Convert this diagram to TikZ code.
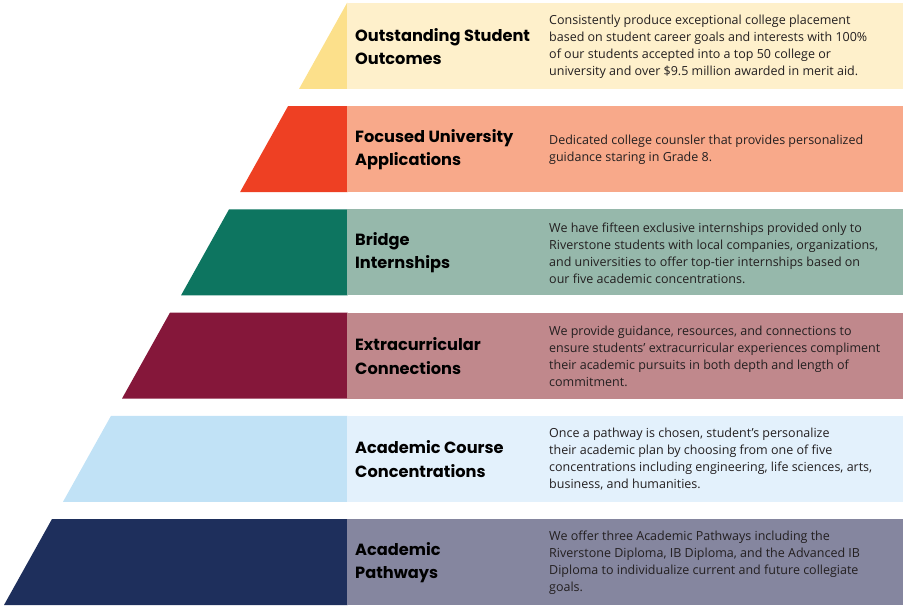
\documentclass[tikz,border=0pt]{standalone}
\usepackage{fontspec}
\setmainfont{Open Sans}
\newfontfamily\titlefont{Poppins}
\definecolor{d1}{HTML}{FCE08B}\definecolor{l1}{HTML}{FEF0CB}
\definecolor{d2}{HTML}{EE4023}\definecolor{l2}{HTML}{F8A98A}
\definecolor{d3}{HTML}{0D7560}\definecolor{l3}{HTML}{96B8AB}
\definecolor{d4}{HTML}{85173A}\definecolor{l4}{HTML}{C0888C}
\definecolor{d5}{HTML}{C1E2F6}\definecolor{l5}{HTML}{E3F1FC}
\definecolor{d6}{HTML}{1E2F5C}\definecolor{l6}{HTML}{85869F}
\definecolor{desctext}{HTML}{231F20}
\tikzset{
  titletext/.style={anchor=west,align=left,inner sep=0pt,font=\titlefont\fontsize{16.2}{23.5}\selectfont\bfseries,text=black},
  bodytext/.style={anchor=west,align=left,inner sep=0pt,font=\fontsize{12.5}{17}\selectfont,text=desctext},
}
\newcommand{\pyrrow}[6]{%
  % #1 index, #2 dark, #3 light, #4 title, #5 body, #6 name
  \pgfmathsetmacro{\rT}{3+103.2*#1}
  \pgfmathsetmacro{\rB}{\rT+86}
  \pgfmathsetmacro{\rTL}{347-59*#1}
  \pgfmathsetmacro{\rBL}{299-59*#1}
  \pgfmathsetmacro{\rM}{\rT+43.5}
  \fill[#2] (\rTL,\rT) -- (347.5,\rT) -- (347.5,\rB) -- (\rBL,\rB) -- cycle;
  \fill[#3] (347,\rT) rectangle (903,\rB);
  \node[titletext] (#6title) at (355,\rM) {#4};
  \node[bodytext] (#6body) at (549,\rM) {#5};
}
\begin{document}
\begin{tikzpicture}[x=1pt,y=-1pt]
\useasboundingbox (0,0) rectangle (903,615);
\pyrrow{0}{d1}{l1}{Outstanding Student\\Outcomes}{Consistently produce exceptional college placement\\based on student career goals and interests with 100\%\\of our students accepted into a top 50 college or\\university and over \$9.5 million awarded in merit aid.}{outcomes}
\pyrrow{1}{d2}{l2}{Focused University\\Applications}{Dedicated college counsler that provides personalized\\guidance staring in Grade 8.}{applications}
\pyrrow{2}{d3}{l3}{Bridge\\Internships}{We have fifteen exclusive internships provided only to\\Riverstone students with local companies, organizations,\\and universities to offer top-tier internships based on\\our five academic concentrations.}{internships}
\pyrrow{3}{d4}{l4}{Extracurricular\\Connections}{We provide guidance, resources, and connections to\\ensure students’ extracurricular experiences compliment\\their academic pursuits in both depth and length of\\commitment.}{connections}
\pyrrow{4}{d5}{l5}{Academic Course\\Concentrations}{Once a pathway is chosen, student’s personalize\\their academic plan by choosing from one of five\\concentrations including engineering, life sciences, arts,\\business, and humanities.}{concentrations}
\pyrrow{5}{d6}{l6}{Academic\\Pathways}{We offer three Academic Pathways including the\\Riverstone Diploma, IB Diploma, and the Advanced IB\\Diploma to individualize current and future collegiate\\goals.}{pathways}
\end{tikzpicture}
\end{document}
